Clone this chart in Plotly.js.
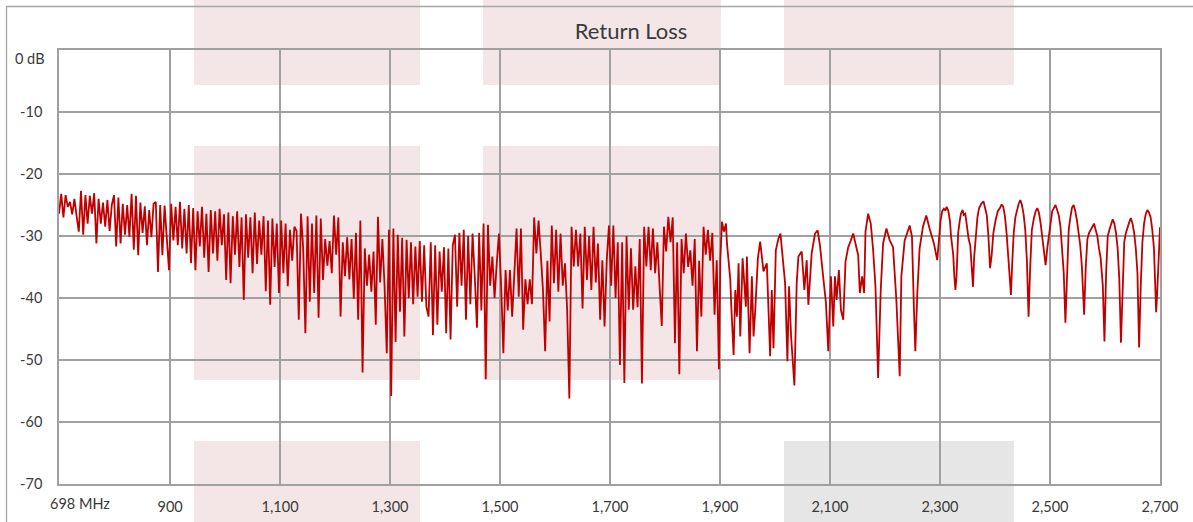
<!DOCTYPE html>
<html><head><meta charset="utf-8">
<script src="https://cdn.plot.ly/plotly-3.0.1.min.js"></script>
<style>html,body{margin:0;padding:0;background:#fff}#chart{width:1193px;height:522px}</style>
</head><body><div id="chart"></div>
<script>
// Sweep of the dense part: 698 MHz upward in 4 MHz steps
const sweepStart = 698;
const sweepStep = 4;
const denseLoss = [
-26.4,-23.2,-27.0,-23.4,-25.3,-24.5,-26.5,-24.0,-26.8,-29.3,
-22.7,-29.8,-23.4,-28.0,-23.5,-26.4,-23.1,-31.2,-24.0,-28.0,
-24.6,-28.5,-24.2,-29.2,-25.0,-23.4,-31.7,-23.8,-31.2,-24.8,
-29.8,-25.0,-30.1,-23.2,-32.2,-23.5,-33.1,-24.6,-29.5,-25.2,
-31.5,-25.8,-30.2,-24.8,-24.5,-35.8,-25.0,-33.1,-25.1,-31.0,
-35.5,-24.8,-30.7,-25.3,-31.5,-24.5,-32.0,-25.6,-32.8,-25.0,
-34.4,-25.5,-35.5,-26.0,-31.7,-25.3,-33.5,-26.4,-35.8,-25.8,
-32.8,-26.0,-34.0,-25.6,-31.5,-26.5,-37.1,-26.2,-37.6,-26.8,
-33.0,-26.0,-35.0,-27.0,-40.3,-26.5,-33.5,-27.0,-36.0,-26.2,
-34.5,-27.5,-33.0,-26.8,-38.9,-27.5,-41.1,-27.2,-35.0,-28.0,
-39.2,-27.5,-36.0,-28.0,-38.1,-29.0,-34.0,-28.5,-29.2,-43.5,
-26.4,-32.0,-45.7,-26.8,-40.6,-28.0,-39.2,-26.7,-43.2,-27.2,
-37.1,-30.5,-34.8,-30.8,-36.0,-26.7,-33.0,-27.0,-43.0,-31.0,
-36.5,-30.2,-37.0,-30.5,-40.1,-29.5,-43.5,-27.5,-52.0,-32.0,
-38.0,-33.0,-39.0,-32.5,-44.3,-26.9,-37.5,-30.5,-38.1,-48.9,
-29.0,-55.8,-28.8,-47.1,-29.8,-42.2,-30.3,-46.2,-30.6,-40.0,
-31.0,-41.0,-31.7,-39.8,-30.8,-40.6,-31.5,-41.4,-43.0,-31.0,
-46.0,-31.5,-44.3,-32.5,-39.0,-31.8,-45.7,-32.0,-46.7,-31.5,
-29.8,-41.4,-29.5,-38.0,-29.0,-43.5,-30.0,-41.0,-29.6,-36.5,
-44.8,-29.5,-42.0,-28.0,-53.1,-28.2,-38.0,-33.3,-40.0,-34.4,
-29.6,-38.0,-48.9,-35.5,-42.0,-35.5,-43.0,-36.0,-28.8,-39.8,
-28.8,-45.1,-37.0,-41.0,-37.0,-41.0,-27.0,-32.8,-27.5,-32.8,
-38.7,-48.6,-34.0,-43.8,-28.3,-37.6,-29.0,-39.0,-29.6,-38.0,
-34.4,-41.9,-56.2,-28.5,-34.9,-29.0,-34.9,-29.6,-41.7,-28.5,
-37.1,-30.0,-38.7,-28.5,-37.5,-31.2,-43.5,-33.9,-44.6,-33.9,
-28.3,-38.0,-28.3,-40.0,-31.0,-50.8,-31.0,-53.7,-30.0,-41.9,
-32.0,-41.9,-34.9,-41.5,-30.5,-53.8,-28.5,-34.9,-28.5,-35.5,
-28.8,-36.0,-31.0,-38.0,-44.5,-28.5,-32.5,-26.9,-31.0,-27.0,
-47.3,-31.0,-52.3,-30.5,-36.0,-29.6,-35.0,-32.3,-38.0,-30.5,
-48.6,-34.0,-43.0,-28.5,-33.0,-29.0,-34.0,-29.5,-42.7,-33.9
];
const tailFreq = [
1898,1900.5,1903.5,1907,1910.8,1912.6,1918.6,1920.5,1924.7,1927.7,
1930.7,1933.7,1936.8,1941,1947,1948.8,1953.7,1957.9,1960.9,1963.9,
1968.8,1973,1979,1985.1,1991.1,1994.1,1997.2,2001.4,2006.2,2009.8,
2015.3,2018.3,2022.5,2025.5,2029.2,2031.6,2035.2,2039.4,2042.5,2048.5,
2053.3,2057.6,2060.6,2066.6,2072.7,2077.5,2081.7,2087.8,2092.6,2096.8,
2101.6,2105.9,2108.9,2111.9,2116.1,2119.8,2124,2128.2,2133.1,2137.9,
2142.1,2146.3,2151.2,2154.2,2158.4,2162,2164.5,2169.3,2174.1,2178.4,
2182.6,2187.4,2192.2,2196.5,2202.5,2208.6,2214.6,2220.6,2223.7,2226.7,
2229.7,2235.7,2244.8,2249,2252.6,2255.1,2258.7,2262.9,2269,2275,
2281,2288.9,2294.9,
2298,2301,2304,2307,2310,2312,2315,2318,2320,2322,2324,2326,2328,2330,2333,2336,2338,2341,2343,2346,
2349,2352,2355,2357,2360,2362,2365,2368,2371,2375,2379,2382,2385,2388,2391,2394,2397,2401,2405,2409,
2412,2415,2418,2421,2424,2427,2429,2431,2434,2437,2440,2443,2446,2449,2452,2455,2458,2461,2464,2467,
2471,2474,2477,2480,2483,2486,2489,2492,2495,2498,2501,2504,2507,2510,2513,2516,2519,2522,2525,2528,
2531,2534,2537,2540,2543,2546,2549,2552,2555,2558,2562,2565,2568,2571,2574,2577,2580,2583,2586,2589,
2592,2596,2599,2602,2605,2608,2611,2614,2617,2620,2623,2626,2629,2632,2635,2638,2641,2644,2647,2650,
2653,2656,2659,2662,2665,2668,2671,2674,2677,2680,2683,2686,2689,2691,2693,2695,2698,2700
];
const tailLoss = [
-51.5,-33.9,-27.7,-29.3,-28.0,-31.2,-37.0,-41.4,-49.2,-38.7,
-43.0,-34.4,-46.2,-33.6,-41.4,-33.3,-48.9,-36.5,-46.2,-42.2,
-33.6,-30.9,-35.7,-34.4,-49.4,-38.7,-48.1,-32.3,-30.4,-29.6,
-34.9,-37.6,-50.2,-38.1,-46.2,-50.0,-54.1,-37.6,-33.3,-32.5,
-38.7,-33.9,-41.1,-32.8,-29.6,-29.1,-31.5,-36.8,-40.8,-48.6,
-36.5,-44.6,-36.5,-40.3,-35.5,-41.9,-43.5,-34.1,-31.8,-30.7,
-29.6,-31.2,-33.1,-39.2,-36.5,-39.2,-29.3,-26.4,-28.0,-32.3,
-38.1,-52.9,-38.7,-31.2,-28.8,-30.7,-31.8,-40.3,-47.3,-52.6,
-36.5,-30.7,-28.3,-30.1,-41.9,-48.6,-39.2,-32.0,-28.5,-26.7,
-28.8,-31.2,-33.9,
-30.5,-27.5,-26.0,-25.6,-25.9,-25.3,-25.9,-27.5,-30.0,-31.5,-33.0,-36.5,-38.7,-36.5,-29.5,-27.5,-26.4,-25.8,-26.6,-26.4,
-28.5,-30.5,-31.5,-34.5,-38.2,-33.5,-29.5,-27.0,-25.5,-24.8,-24.4,-25.4,-26.6,-30.0,-35.2,-33.0,-29.5,-27.5,-26.0,-25.5,
-24.9,-25.3,-26.8,-29.5,-33.0,-38.0,-39.5,-35.0,-29.5,-27.0,-25.6,-24.8,-24.2,-25.0,-26.5,-29.0,-34.0,-43.0,-35.0,-29.0,
-27.0,-26.0,-25.5,-26.3,-28.0,-30.5,-32.5,-34.7,-32.0,-30.0,-27.5,-26.0,-25.5,-25.0,-25.8,-26.7,-28.5,-32.0,-36.0,-44.0,
-36.0,-29.0,-27.0,-25.4,-25.0,-26.0,-27.5,-29.5,-31.5,-35.0,-42.7,-35.0,-30.5,-29.5,-29.0,-28.3,-28.0,-29.0,-30.0,-32.0,
-33.5,-38.0,-47.0,-36.0,-30.0,-29.0,-28.0,-27.3,-28.0,-29.5,-32.0,-37.0,-47.2,-37.0,-31.0,-29.5,-28.5,-27.8,-27.1,-28.0,
-29.5,-32.0,-36.0,-48.0,-38.0,-31.0,-28.0,-26.5,-25.8,-26.2,-27.0,-29.0,-32.0,-37.0,-42.3,-39.0,-32.0,-28.6
];
const xTickVals = [698, 900, 1100, 1300, 1500, 1700, 1900, 2100, 2300, 2500, 2700];
const xTickText = ['', '900', '1,100', '1,300', '1,500', '1,700', '1,900', '2,100', '2,300', '2,500', '2,700'];
const xFirstLabel = '698 MHz';
const yTickVals = [0, -10, -20, -30, -40, -50, -60, -70];
const yTickText = ['', '-10', '-20', '-30', '-40', '-50', '-60', '-70'];
const yFirstLabel = '0 dB';

const freq = denseLoss.map((_, i) => sweepStart + sweepStep * i).concat(tailFreq);
const loss = denseLoss.concat(tailLoss);

// plot area in pixels (chosen so the 200 MHz / 10 dB grid falls on a whole-pixel pitch)
const L = 59, R = 1160.1, T = 50, B = 484;
const px = p => (p - L) / (R - L);
const py = p => (B - p) / (B - T);
const pink = '#f4e6e7', grey = '#e6e6e6';
function box(x0, x1, y0, y1, c) {
  return {type: 'rect', xref: 'paper', yref: 'paper', x0: px(x0), x1: px(x1), y0: py(y1), y1: py(y0),
          fillcolor: c, line: {width: 0}, layer: 'below'};
}
const shapes = [
  box(194, 420, -20, 85, pink), box(194, 420, 146, 380, pink), box(194, 420, 441, 540, pink),
  box(483, 721, -20, 85, pink), box(483, 721, 146, 380, pink),
  box(784, 1014, -20, 85, pink), box(784, 1014, 441, 540, grey),
  {type: 'rect', xref: 'paper', yref: 'paper', x0: px(6.5), x1: px(1220), y0: py(540), y1: py(6.5),
   fillcolor: 'rgba(0,0,0,0)', line: {color: '#a6a6a6', width: 1.3}, layer: 'below'}
];

const font = 'Lato, "Open Sans", sans-serif';
const txt = '#3a3a3a';
const trace = {
  x: freq, y: loss, type: 'scatter', mode: 'lines',
  line: {color: '#c00000', width: 1.8}, hoverinfo: 'skip'
};
const layout = {
  width: 1193, height: 522,
  margin: {l: L, r: 1193 - R, t: T, b: 522 - B, pad: 0},
  paper_bgcolor: '#ffffff', plot_bgcolor: 'rgba(0,0,0,0)',
  showlegend: false,
  title: {text: 'Return Loss', font: {family: font, size: 22, color: txt},
          x: 631 / 1193, xref: 'container', xanchor: 'center', y: 1 - 31 / 522, yref: 'container', yanchor: 'middle'},
  font: {family: font, size: 14, color: txt},
  xaxis: {range: [698, 2700], tickmode: 'array', tickvals: xTickVals, ticktext: xTickText,
          showgrid: true, gridcolor: '#a0a0a0', gridwidth: 1.4, zeroline: false,
          showline: true, linecolor: '#a0a0a0', linewidth: 1.8, mirror: true,
          ticks: '', ticklabelstandoff: 9, tickfont: {family: font, size: 14.5, color: txt}},
  yaxis: {range: [-70, 0], tickmode: 'array', tickvals: yTickVals, ticktext: yTickText,
          showgrid: true, gridcolor: '#a0a0a0', gridwidth: 1.4, zeroline: false,
          showline: true, linecolor: '#a0a0a0', linewidth: 1.8, mirror: true,
          ticks: '', ticklabelstandoff: 12, tickfont: {family: font, size: 14.5, color: txt}},
  shapes: shapes,
  annotations: [
    {text: xFirstLabel, xref: 'paper', yref: 'paper', x: 0, y: 0, xanchor: 'left', yanchor: 'top',
     xshift: -11, yshift: -9, showarrow: false, font: {family: font, size: 14.5, color: txt}},
    {text: yFirstLabel, xref: 'paper', yref: 'paper', x: 0, y: 1, xanchor: 'right', yanchor: 'middle',
     xshift: -12, yshift: -8, showarrow: false, font: {family: font, size: 14.5, color: txt}}
  ]
};
Plotly.newPlot('chart', [trace], layout, {displayModeBar: false, staticPlot: true});
</script>
</body></html>
